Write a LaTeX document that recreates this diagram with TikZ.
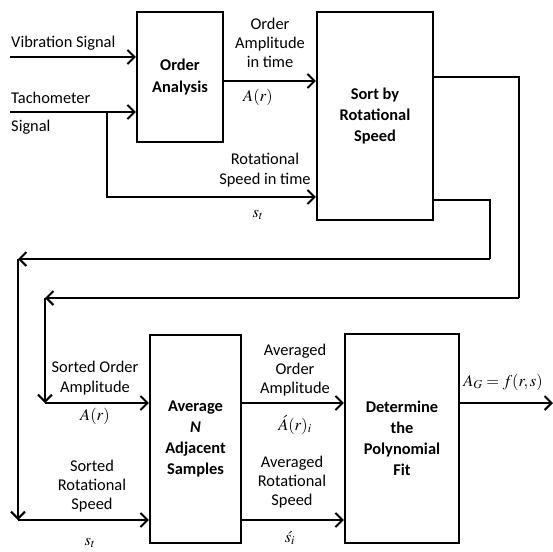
\documentclass[tikz,border=0pt]{standalone}
\usepackage{amsmath}
\usepackage{mathptmx}
\usepackage{fontspec}
\setmainfont{Carlito}
\usepackage{tikz}
\usetikzlibrary{arrows.meta}

\begin{document}
\begin{tikzpicture}[x=0.03cm,y=-0.03cm,
  blk/.style={draw,line width=1.9pt,inner sep=0pt,align=center,font=\fontsize{14}{18}\selectfont\bfseries},
  lbl/.style={align=center,inner sep=0pt,font=\fontsize{14}{16.5}\selectfont},
  mth/.style={inner sep=0pt,font=\fontsize{14}{16}\selectfont},
  flow/.style={line width=1.9pt,-{Straight Barb[length=6pt,width=12pt,line width=1.7pt]}},
  wire/.style={line width=1.9pt}]
\useasboundingbox (0,0) rectangle (553,551);
% blocks
\node[blk,minimum width=2.58cm,minimum height=3.9cm] (oa) at (180,77) {Order\\Analysis};
\node[blk,minimum width=3.48cm,minimum height=6.24cm] (sort) at (375,116) {Sort by\\Rotational\\Speed};
\node[blk,minimum width=2.73cm,minimum height=6.24cm] (avg) at (195.5,439) {Average\\\textit{N}\\Adjacent\\Samples};
\node[blk,minimum width=3.42cm,minimum height=6.27cm] (fit) at (402,438.5) {Determine\\the\\Polynomial\\Fit};
% free ends and corners
\coordinate (vib) at (10,57);
\coordinate (tach) at (10,112);
\coordinate (branch) at (107,112);
\coordinate (amp) at (0,81);
\coordinate (spd) at (0,197);
\coordinate (upr) at (519,77);
\coordinate (lwr) at (490,200);
\coordinate (inner) at (45,298);
\coordinate (outer) at (18,259);
\coordinate (ain) at (0,403);
\coordinate (sin) at (0,520);
\coordinate (fout) at (553,403);
% inputs
\draw[flow] (vib) -- (vib -| oa.west);
\draw[flow] (tach) -- (tach -| oa.west);
\draw[flow] (branch) -- (branch |- spd) -- (spd -| sort.west);
\draw[flow] (amp -| oa.east) -- (amp -| sort.west);
% loops back
\draw[wire] (upr -| sort.east) -- (upr) -- (upr |- inner);
\draw[flow] (upr |- inner) -- (inner);
\draw[flow] (inner) -- (inner |- ain);
\draw[flow] (inner |- ain) -- (ain -| avg.west);
\draw[wire] (lwr -| sort.east) -- (lwr) -- (lwr |- outer);
\draw[flow] (lwr |- outer) -- (outer);
\draw[flow] (outer) -- (outer |- sin);
\draw[flow] (outer |- sin) -- (sin -| avg.west);
% averaged outputs
\draw[flow] (ain -| avg.east) -- (ain -| fit.west);
\draw[flow] (sin -| avg.east) -- (sin -| fit.west);
\draw[flow] (fit.east |- fout) -- (fout);
% labels
\node[lbl,anchor=west] (lvib) at (11,43) {Vibration Signal};
\node[lbl,anchor=west] (ltach) at (11,98) {Tachometer};
\node[lbl,anchor=west] (lsig) at (11,127) {Signal};
\node[lbl] (lamp) at (270,43) {Order\\Amplitude\\in time};
\node[mth] (mamp) at (258,97) {$A(r)$};
\node[lbl] (lspd) at (265,170) {Rotational\\Speed in time};
\node[mth] (mspd) at (258,215) {$s_t$};
\node[lbl] (lsamp) at (95,378) {Sorted Order\\Amplitude};
\node[mth] (msamp) at (95,416) {$A(r)$};
\node[lbl] (lsspd) at (92,486) {Sorted\\Rotational\\Speed};
\node[mth] (msspd) at (90,543) {$s_t$};
\node[lbl] (laamp) at (295,370) {Averaged\\Order\\Amplitude};
\node[mth] (maamp) at (295,425) {$\acute{A}(r)_i$};
\node[lbl] (laspd) at (292,482) {Averaged\\Rotational\\Speed};
\node[mth] (maspd) at (290,538) {$\acute{s}_i$};
\node[mth] (mfit) at (503,382) {$A_G = f(r,s)$};
\end{tikzpicture}
\end{document}
